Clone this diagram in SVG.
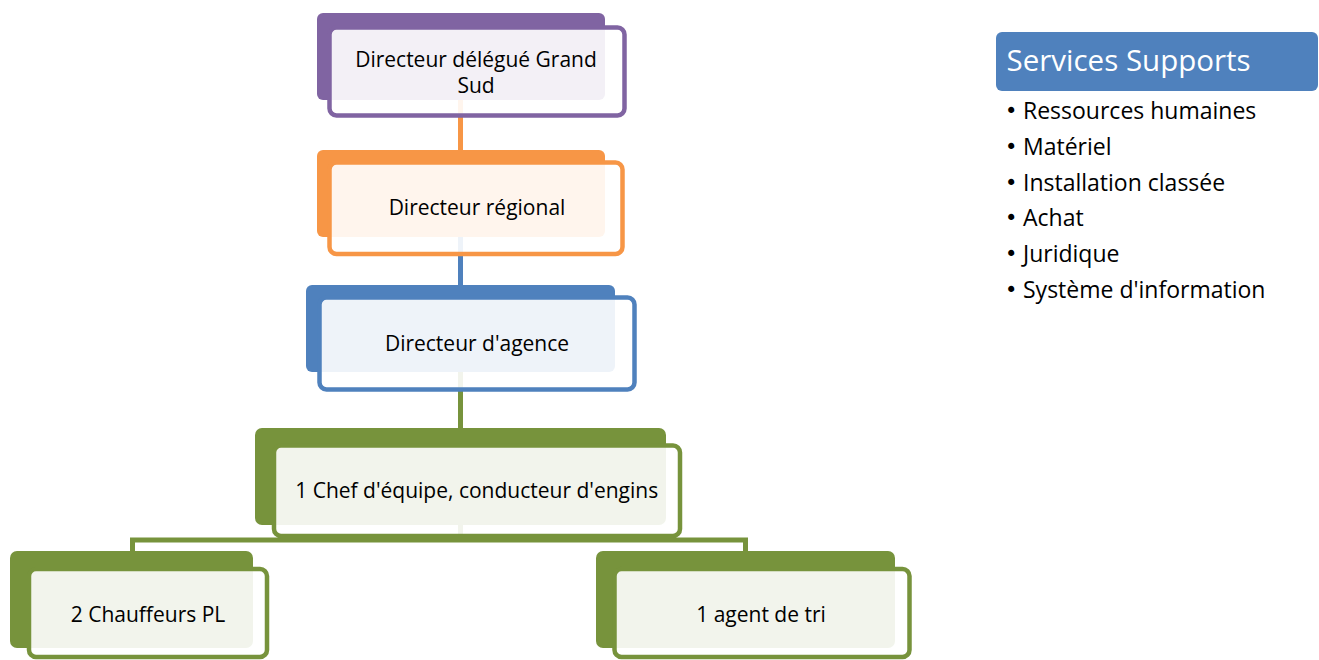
<svg xmlns="http://www.w3.org/2000/svg" width="1319" height="660" viewBox="0 0 1319 660">
<style>
  .back { stroke: none; }
  .front { fill: #ffffff; fill-opacity: 0.9; stroke-width: 4.5; }
  .lbl { font-family: "Open Sans", "Noto Sans", sans-serif; font-size: 21px; fill: #000000; text-anchor: middle; }
  .conn { fill: none; stroke-width: 5; stroke-linejoin: miter; }
  .list { font-family: "Open Sans", "Noto Sans", sans-serif; font-size: 23px; fill: #000000; }
  .bul { font-family: "DejaVu Sans", sans-serif; font-size: 21px; fill: #000000; }
  .hdr { font-family: "Open Sans", "Noto Sans", sans-serif; font-size: 29.5px; fill: #ffffff; }
</style>
<rect width="1319" height="660" fill="#ffffff"/>

<!-- back shapes -->
<g id="backs">
  <rect class="back" x="317" y="13" width="288" height="87" rx="6" fill="#8064a2"/>
  <rect class="back" x="317" y="150" width="288" height="87" rx="6" fill="#f79646"/>
  <rect class="back" x="306" y="285" width="309" height="87" rx="6" fill="#4f81bd"/>
  <rect class="back" x="255" y="428" width="411" height="97" rx="7" fill="#77933c"/>
  <rect class="back" x="10" y="551" width="243" height="97" rx="7" fill="#77933c"/>
  <rect class="back" x="596" y="551" width="299" height="97" rx="7" fill="#77933c"/>
</g>

<g id="connectors">
  <line class="conn" x1="460.5" y1="100" x2="460.5" y2="150" stroke="#f79646"/>
  <line class="conn" x1="460.5" y1="237" x2="460.5" y2="285" stroke="#4f81bd"/>
  <line class="conn" x1="460.5" y1="372" x2="460.5" y2="428" stroke="#77933c"/>
  <line class="conn" x1="460.5" y1="525" x2="460.5" y2="540" stroke="#77933c"/>
  <path class="conn" d="M132.5,551 V540 H745.5 V551" stroke="#77933c"/>
</g>

<g id="node1">
  <rect class="front" x="329.5" y="27.5" width="295" height="88" rx="7" stroke="#8064a2"/>
  <text class="lbl" x="476" y="66.5">Directeur délégué Grand</text>
  <text class="lbl" x="476" y="92.5">Sud</text>
</g>

<g id="node2">
  <rect class="front" x="329.5" y="162.5" width="293" height="91.5" rx="7" stroke="#f79646"/>
  <text class="lbl" x="477" y="215">Directeur régional</text>
</g>

<g id="node3">
  <rect class="front" x="319.5" y="297.5" width="315" height="92" rx="7" stroke="#4f81bd"/>
  <text class="lbl" x="477" y="351">Directeur d'agence</text>
</g>

<g id="node4">
  <rect class="front" x="274" y="445.5" width="406" height="90.5" rx="7" stroke="#77933c"/>
  <text class="lbl" x="476.7" y="498.3">1 Chef d'équipe, conducteur d'engins</text>
</g>

<g id="node5">
  <rect class="front" x="29" y="569" width="238" height="88" rx="7" stroke="#77933c"/>
  <text class="lbl" x="148" y="621.7">2 Chauffeurs PL</text>
</g>

<g id="node6">
  <rect class="front" x="614.5" y="569" width="295" height="88" rx="7" stroke="#77933c"/>
  <text class="lbl" x="761" y="621.7">1 agent de tri</text>
</g>

<g id="services">
  <rect x="996" y="32" width="322" height="59" rx="6" fill="#4f81bd"/>
  <text class="hdr" x="1006.5" y="70.5">Services Supports</text>
  <g class="bul">
    <text x="1005" y="118">•</text>
    <text x="1005" y="154">•</text>
    <text x="1005" y="189.5">•</text>
    <text x="1005" y="225">•</text>
    <text x="1005" y="261">•</text>
    <text x="1005" y="296.5">•</text>
  </g>
  <text class="list" x="1023" y="119">Ressources humaines</text>
  <text class="list" x="1023" y="155">Matériel</text>
  <text class="list" x="1023" y="190.5">Installation classée</text>
  <text class="list" x="1023" y="226">Achat</text>
  <text class="list" x="1023" y="262">Juridique</text>
  <text class="list" x="1023" y="297.5">Système d'information</text>
</g>
</svg>
